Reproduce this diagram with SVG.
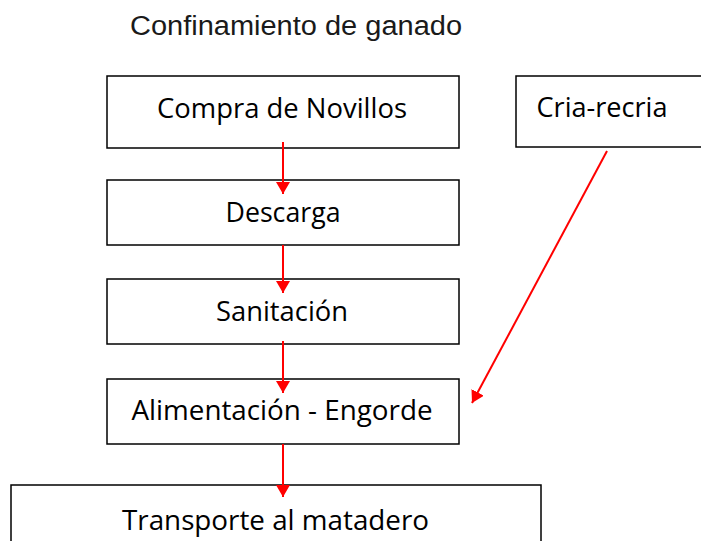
<svg xmlns="http://www.w3.org/2000/svg" width="701" height="541" viewBox="0 0 701 541">
<style>
.box{fill:#fff;stroke:#000;stroke-width:1.5}
.t{font-family:"Open Sans","Noto Sans","Liberation Sans",sans-serif;font-size:27.5px;fill:#000;text-anchor:middle}
.title{font-family:"Liberation Sans",Arial,sans-serif;font-size:27px;fill:#1a1a1a}
.c{stroke:#f00;stroke-width:2;fill:none;marker-end:url(#ah)}
</style>
<defs>
<marker id="ah" markerWidth="12" markerHeight="14" refX="12" refY="7" orient="auto" markerUnits="userSpaceOnUse" viewBox="0 0 12 14">
<path d="M0,0 L12,7 L0,14 Z" fill="#f00"/>
</marker>
</defs>
<rect width="701" height="541" fill="#fff"/>
<text class="title" x="130" y="35" textLength="332" lengthAdjust="spacingAndGlyphs">Confinamiento de ganado</text>
<g id="n1"><rect class="box" x="107" y="76" width="352" height="72"/><text class="t" x="282" y="118" textLength="250" lengthAdjust="spacingAndGlyphs">Compra de Novillos</text></g>
<g id="n2"><rect class="box" x="107" y="180" width="352" height="65"/><text class="t" x="283" y="222" textLength="115" lengthAdjust="spacingAndGlyphs">Descarga</text></g>
<g id="n3"><rect class="box" x="107" y="279" width="352" height="65"/><text class="t" x="282" y="321" textLength="132" lengthAdjust="spacingAndGlyphs">Sanitación</text></g>
<g id="n4"><rect class="box" x="107" y="379" width="352" height="65"/><text class="t" x="282" y="420" textLength="301" lengthAdjust="spacingAndGlyphs">Alimentación - Engorde</text></g>
<g id="n5"><rect class="box" x="11" y="485" width="530" height="70"/><text class="t" x="275.5" y="530" textLength="307" lengthAdjust="spacingAndGlyphs">Transporte al matadero</text></g>
<g id="n6"><rect class="box" x="516" y="76" width="200" height="71"/><text class="t" x="602" y="117" textLength="131" lengthAdjust="spacingAndGlyphs">Cria-recria</text></g>
<g id="connectors">
<line class="c" x1="283" y1="142" x2="283" y2="194"/>
<line class="c" x1="283" y1="245" x2="283" y2="293"/>
<line class="c" x1="283" y1="341" x2="283" y2="393"/>
<line class="c" x1="283" y1="444" x2="283" y2="497"/>
<line class="c" x1="607" y1="151" x2="472" y2="403"/>
</g>
</svg>
